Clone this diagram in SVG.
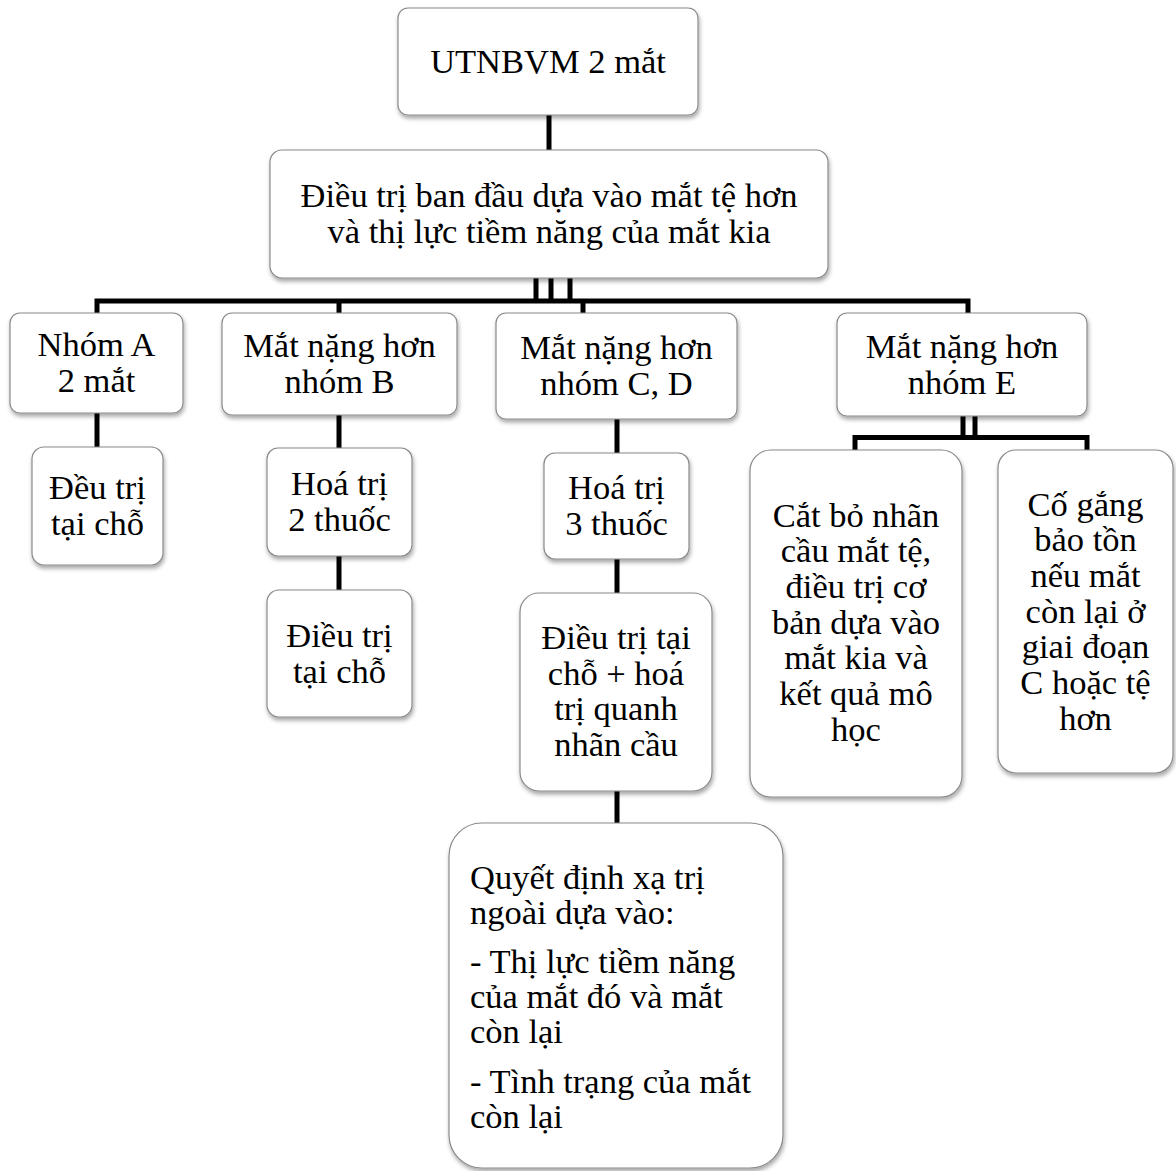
<svg xmlns="http://www.w3.org/2000/svg" width="1176" height="1171" viewBox="0 0 1176 1171">
<defs>
<filter id="sh" x="-10%" y="-10%" width="120%" height="130%">
<feDropShadow dx="1" dy="3" stdDeviation="2" flood-color="#000" flood-opacity="0.35"/>
</filter>
<style>
.box{fill:#fff;stroke:#8a8a8a;stroke-width:1.2;filter:url(#sh)}
.t{font-family:"Liberation Serif","Times New Roman",serif;font-size:34.5px;fill:#000;text-anchor:middle}
.l{text-anchor:start}
.c{fill:none;stroke:#000;stroke-width:5;stroke-linejoin:miter}
</style>
</defs>
<rect width="1176" height="1171" fill="#fff"/>
<g id="connectors">
<path class="c" d="M549 115V150"/>
<path class="c" d="M536 278V301M551 278V301M570 278V301"/>
<path class="c" d="M97 313V301H968V313"/>
<path class="c" d="M339 301V313M583 301V313"/>
<path class="c" d="M97 413V447"/>
<path class="c" d="M339 415V448M339 556V590"/>
<path class="c" d="M617 419V453M617 559V593M617 791V823"/>
<path class="c" d="M963 416V437M975 416V437"/>
<path class="c" d="M855 450V437.5H1087V450"/>
</g>
<g id="n1"><rect class="box" x="398" y="8" width="300" height="107" rx="10"/>
<text class="t" x="548" y="73">UTNBVM 2 mắt</text></g>
<g id="n2"><rect class="box" x="270" y="150" width="558" height="128" rx="12"/>
<text class="t" x="549" y="207">Điều trị ban đầu dựa vào mắt tệ hơn</text>
<text class="t" x="549" y="243">và thị lực tiềm năng của mắt kia</text></g>
<g id="nA"><rect class="box" x="10" y="313" width="173" height="100" rx="10"/>
<text class="t" x="96.5" y="356">Nhóm A</text>
<text class="t" x="96.5" y="392">2 mắt</text></g>
<g id="nB"><rect class="box" x="222" y="313" width="235" height="102" rx="10"/>
<text class="t" x="339.5" y="357">Mắt nặng hơn</text>
<text class="t" x="339.5" y="393">nhóm B</text></g>
<g id="nCD"><rect class="box" x="496" y="313" width="241" height="106" rx="10"/>
<text class="t" x="616.5" y="359">Mắt nặng hơn</text>
<text class="t" x="616.5" y="395">nhóm C, D</text></g>
<g id="nE"><rect class="box" x="837" y="313" width="250" height="103" rx="10"/>
<text class="t" x="962" y="358">Mắt nặng hơn</text>
<text class="t" x="962" y="394">nhóm E</text></g>
<g id="nA1"><rect class="box" x="32" y="447" width="131" height="118" rx="12"/>
<text class="t" x="97.5" y="499">Đều trị</text>
<text class="t" x="97.5" y="535">tại chỗ</text></g>
<g id="nB1"><rect class="box" x="267" y="448" width="145" height="108" rx="11"/>
<text class="t" x="339.5" y="495">Hoá trị</text>
<text class="t" x="339.5" y="531">2 thuốc</text></g>
<g id="nB2"><rect class="box" x="267" y="590" width="145" height="127" rx="12"/>
<text class="t" x="339.5" y="647">Điều trị</text>
<text class="t" x="339.5" y="683">tại chỗ</text></g>
<g id="nCD1"><rect class="box" x="544" y="453" width="145" height="106" rx="11"/>
<text class="t" x="616.5" y="499">Hoá trị</text>
<text class="t" x="616.5" y="535">3 thuốc</text></g>
<g id="nCD2"><rect class="box" x="520" y="593" width="192" height="198" rx="19"/>
<text class="t" x="616" y="649">Điều trị tại</text>
<text class="t" x="616" y="685">chỗ + hoá</text>
<text class="t" x="616" y="720">trị quanh</text>
<text class="t" x="616" y="756">nhãn cầu</text></g>
<g id="nCD3"><rect class="box" x="449" y="823" width="334" height="345" rx="33"/>
<text class="t l" x="470" y="889">Quyết định xạ trị</text>
<text class="t l" x="470" y="924">ngoài dựa vào:</text>
<text class="t l" x="470" y="973">- Thị lực tiềm năng</text>
<text class="t l" x="470" y="1008">của mắt đó và mắt</text>
<text class="t l" x="470" y="1043">còn lại</text>
<text class="t l" x="470" y="1093">- Tình trạng của mắt</text>
<text class="t l" x="470" y="1128">còn lại</text></g>
<g id="nE1"><rect class="box" x="750" y="450" width="212" height="347" rx="21"/>
<text class="t" x="856" y="527">Cắt bỏ nhãn</text>
<text class="t" x="856" y="562">cầu mắt tệ,</text>
<text class="t" x="856" y="598">điều trị cơ</text>
<text class="t" x="856" y="634">bản dựa vào</text>
<text class="t" x="856" y="669">mắt kia và</text>
<text class="t" x="856" y="705">kết quả mô</text>
<text class="t" x="856" y="741">học</text></g>
<g id="nE2"><rect class="box" x="998" y="450" width="175" height="323" rx="18"/>
<text class="t" x="1085.5" y="516">Cố gắng</text>
<text class="t" x="1085.5" y="551">bảo tồn</text>
<text class="t" x="1085.5" y="587">nếu mắt</text>
<text class="t" x="1085.5" y="623">còn lại ở</text>
<text class="t" x="1085.5" y="658">giai đoạn</text>
<text class="t" x="1085.5" y="694">C hoặc tệ</text>
<text class="t" x="1085.5" y="730">hơn</text></g>
</svg>
